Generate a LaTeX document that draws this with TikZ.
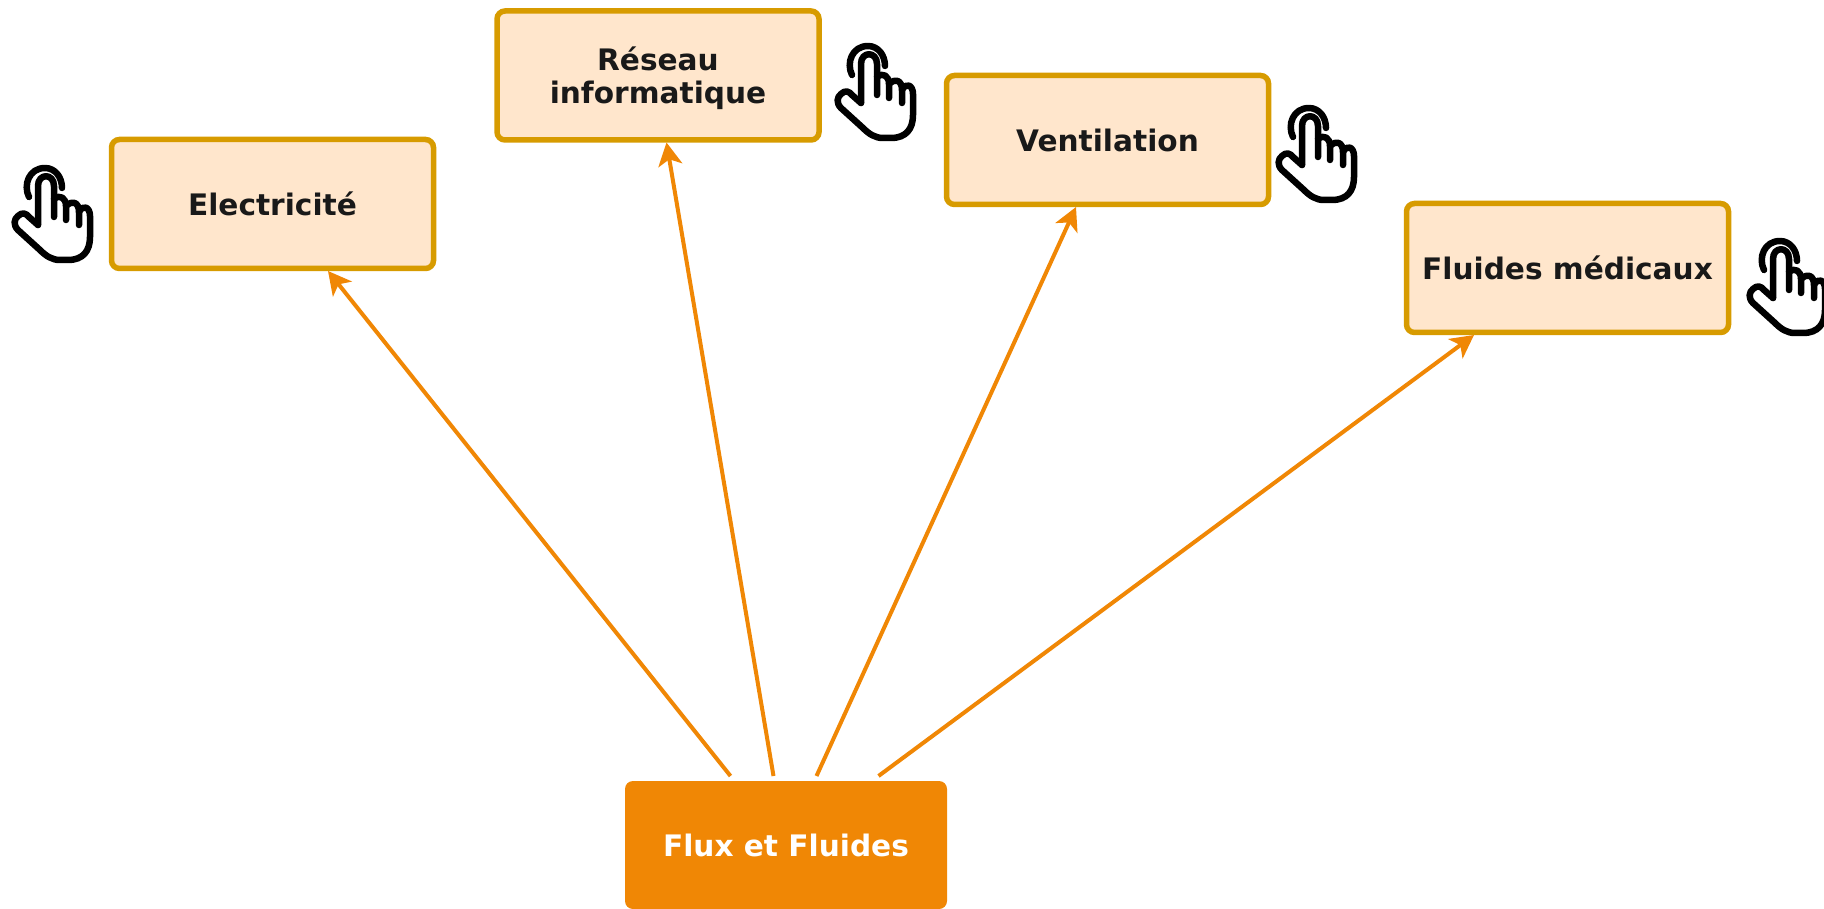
\documentclass[tikz,border=0pt]{standalone}
\usepackage{fontspec}
\setmainfont{DejaVu Sans}
\usetikzlibrary{arrows.meta}
\definecolor{boxfill}{HTML}{FFE6CC}
\definecolor{boxline}{HTML}{D79B00}
\definecolor{fluxorange}{HTML}{F08705}
\tikzset{
  every node/.style={inner sep=0pt,outer sep=0pt,align=center,font=\fontsize{29.6}{33}\selectfont\bfseries},
  childbox/.style={draw=boxline,line width=5.5pt,fill=boxfill,rounded corners=8pt,minimum width=322pt,minimum height=129pt,text=black!90},
  rootbox/.style={fill=fluxorange,rounded corners=8pt,minimum width=322pt,minimum height=128pt,text=white},
  link/.style={draw=fluxorange,line width=4pt,-{Stealth[length=23pt,width=24pt,inset=6pt]}},
  hand/.pic={
    \begin{scope}[line width=6.5pt,line cap=round,line join=round,draw=black]
      \draw (26,60) -- (26,21) .. controls (26,8) and (42,8) .. (42,21) -- (42,52);
      \draw (42,34) .. controls (48,29) and (54,33) .. (54,41) -- (54,55);
      \draw (54,41) .. controls (60,35) and (67,37) .. (67,47) -- (67,60);
      \draw (67,47) .. controls (71,39) and (78,42) .. (78,51) -- (78,72)
        .. controls (78,86) and (71,95) .. (56,95) -- (48,95)
        .. controls (40,95) and (34,91) .. (28,85) -- (6,65)
        .. controls (1,60) and (2,54) .. (6,51)
        .. controls (10,47) and (14,48) .. (17,52) -- (26,60);
      \draw (17,32) .. controls (11,20) and (17,3) .. (33,3) .. controls (43,3) and (50,12) .. (50,23);
    \end{scope}
  }
}
\begin{document}
\begin{tikzpicture}[x=1pt,y=-1pt]
\useasboundingbox (0,0) rectangle (1824,909);
\clip (0,0) rectangle (1824,909);
\node[childbox] (elec) at (272.5,204) {Electricité};
\node[childbox] (res) at (658,75.5) {\rule{0pt}{29pt}Réseau\\informatique};
\node[childbox] (vent) at (1107.5,140) {Ventilation};
\node[childbox] (flu) at (1567.5,268) {Fluides médicaux};
\node[rootbox] (flux) at (786,845) {\textcolor{white}{Flux et Fluides}};
\draw[link] ([shift={(-55.5,-5)}]flux.north) -- ([shift={(55.5,2.5)}]elec.south);
\draw[link] ([shift={(-12.5,-5)}]flux.north) -- ([shift={(8.5,2.5)}]res.south);
\draw[link] ([shift={(30.5,-5)}]flux.north) -- ([shift={(-31.5,2.5)}]vent.south);
\draw[link] ([shift={(92.5,-5)}]flux.north) -- ([shift={(-93.5,2.5)}]flu.south);
\pic at (12,165) {hand};
\pic at (835,43) {hand};
\pic at (1276,105) {hand};
\pic at (1747,238) {hand};
\end{tikzpicture}
\end{document}
